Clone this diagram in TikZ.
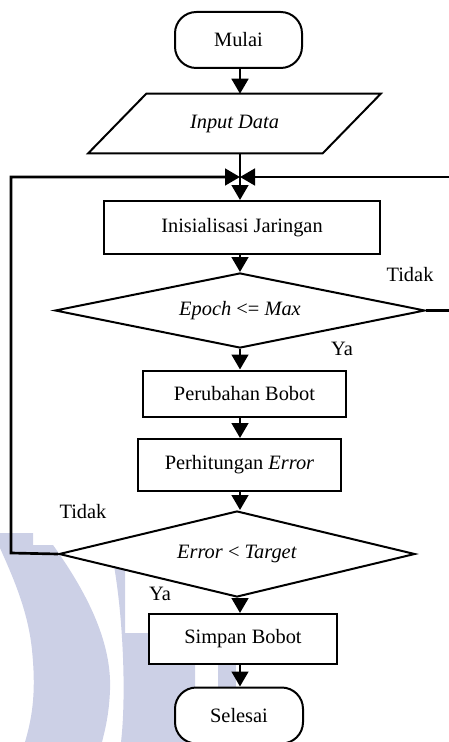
\documentclass[tikz,border=0pt]{standalone}
\usepackage{fontspec}
\setmainfont{Liberation Serif}
\usetikzlibrary{shapes.geometric,arrows.meta}
\definecolor{wm}{RGB}{204,208,230}
\begin{document}
\begin{tikzpicture}[x=0.75pt,y=-0.75pt,
  every node/.style={font=\fontsize{15.3}{18}\selectfont},
  boxline/.style={draw, line width=1.5pt, fill=white},
  procbox/.style={boxline, rectangle, inner sep=0pt},
  term/.style={boxline, rectangle, rounded corners=16pt, inner sep=0pt},
  decis/.style={boxline, diamond, inner sep=0pt, aspect=4.5},
  conn/.style={line width=2pt},
  arr/.style={conn, -{Triangle[length=11.25pt,width=12.5pt]}},
  lbl/.style={inner sep=0pt}]
\useasboundingbox (0,0) rectangle (449,742);
% watermark
\fill[wm] (0,533) -- (33,533) -- (33,545) -- (53,545)
  .. controls (85,590) and (112,640) .. (110,690)
  .. controls (109,715) and (105,730) .. (102,742) -- (25,742)
  .. controls (33,715) and (36,690) .. (32,650)
  .. controls (28,610) and (12,575) .. (0,548) -- cycle;
\fill[wm] (113,560) -- (125,560) -- (125,633) -- (195,633) -- (195,742) -- (121,742)
  .. controls (126,700) and (124,620) .. (113,560) -- cycle;
\fill[wm] (218,633) rectangle (236,742);
% nodes
\coordinate (spine) at (240,0);
\node[term, minimum width=95.25pt, minimum height=42pt] (mulai) at (238.5,40) {Mulai};
\node[inner sep=0pt, minimum width=175.5pt, minimum height=44.25pt] (input) at (234.5,123.5) {\textit{Input Data}};
\draw[line width=1.5pt] ([xshift=21.75pt]input.north west) -- ([xshift=21.75pt]input.north east)
  -- ([xshift=-21.75pt]input.south east) -- ([xshift=-21.75pt]input.south west) -- cycle;
\node[procbox, minimum width=207pt, minimum height=39.75pt] (init) at (242,227.5) {Inisialisasi Jaringan};
\node[decis, minimum width=277.5pt, minimum height=56.25pt] (epoch) at (240,310.5) {\textit{Epoch} <= \textit{Max}};
\node[procbox, minimum width=152.25pt, minimum height=34.5pt] (ubah) at (244.5,393.5) {Perubahan Bobot};
\node[procbox, minimum width=152.25pt, minimum height=39pt] (hitung) at (239.5,465) {Perhitungan \textit{Error}};
\node[decis, minimum width=267pt, minimum height=64.5pt] (err) at (237,554) {\textit{Error} < \textit{Target}};
\node[procbox, minimum width=141pt, minimum height=37.5pt] (simpan) at (243,639) {Simpan Bobot};
\node[term, minimum width=96pt, minimum height=42pt] (selesai) at (239,715.5) {Selesai};
% labels
\node[lbl] (t1) at (410,275) {Tidak};
\node[lbl] (y1) at (342,349) {Ya};
\node[lbl] (t2) at (83,512) {Tidak};
\node[lbl] (y2) at (160,594) {Ya};
% connectors
\coordinate (merge) at (240,177);
\coordinate (lcorner) at (11,553);
\coordinate (rcorner) at (453,310.5);
\draw[arr] (mulai.south -| spine) -- (input.north -| spine);
\draw[conn] (input.south -| spine) -- (merge);
\draw[arr] (merge) -- (init.north -| spine);
\draw[arr] (init.south -| spine) -- (epoch.north -| spine);
\draw[arr] (epoch.south -| spine) -- (ubah.north -| spine);
\draw[arr] (ubah.south -| spine) -- (hitung.north -| spine);
\draw[arr] (hitung.south -| spine) -- (err.north -| spine);
\draw[arr] (err.south -| spine) -- (simpan.north -| spine);
\draw[arr] (simpan.south -| spine) -- (selesai.north -| spine);
\draw[arr] (err.west) -- (lcorner) |- (merge);
\draw[arr] (epoch.east) -- (rcorner) |- (merge);
\end{tikzpicture}
\end{document}
